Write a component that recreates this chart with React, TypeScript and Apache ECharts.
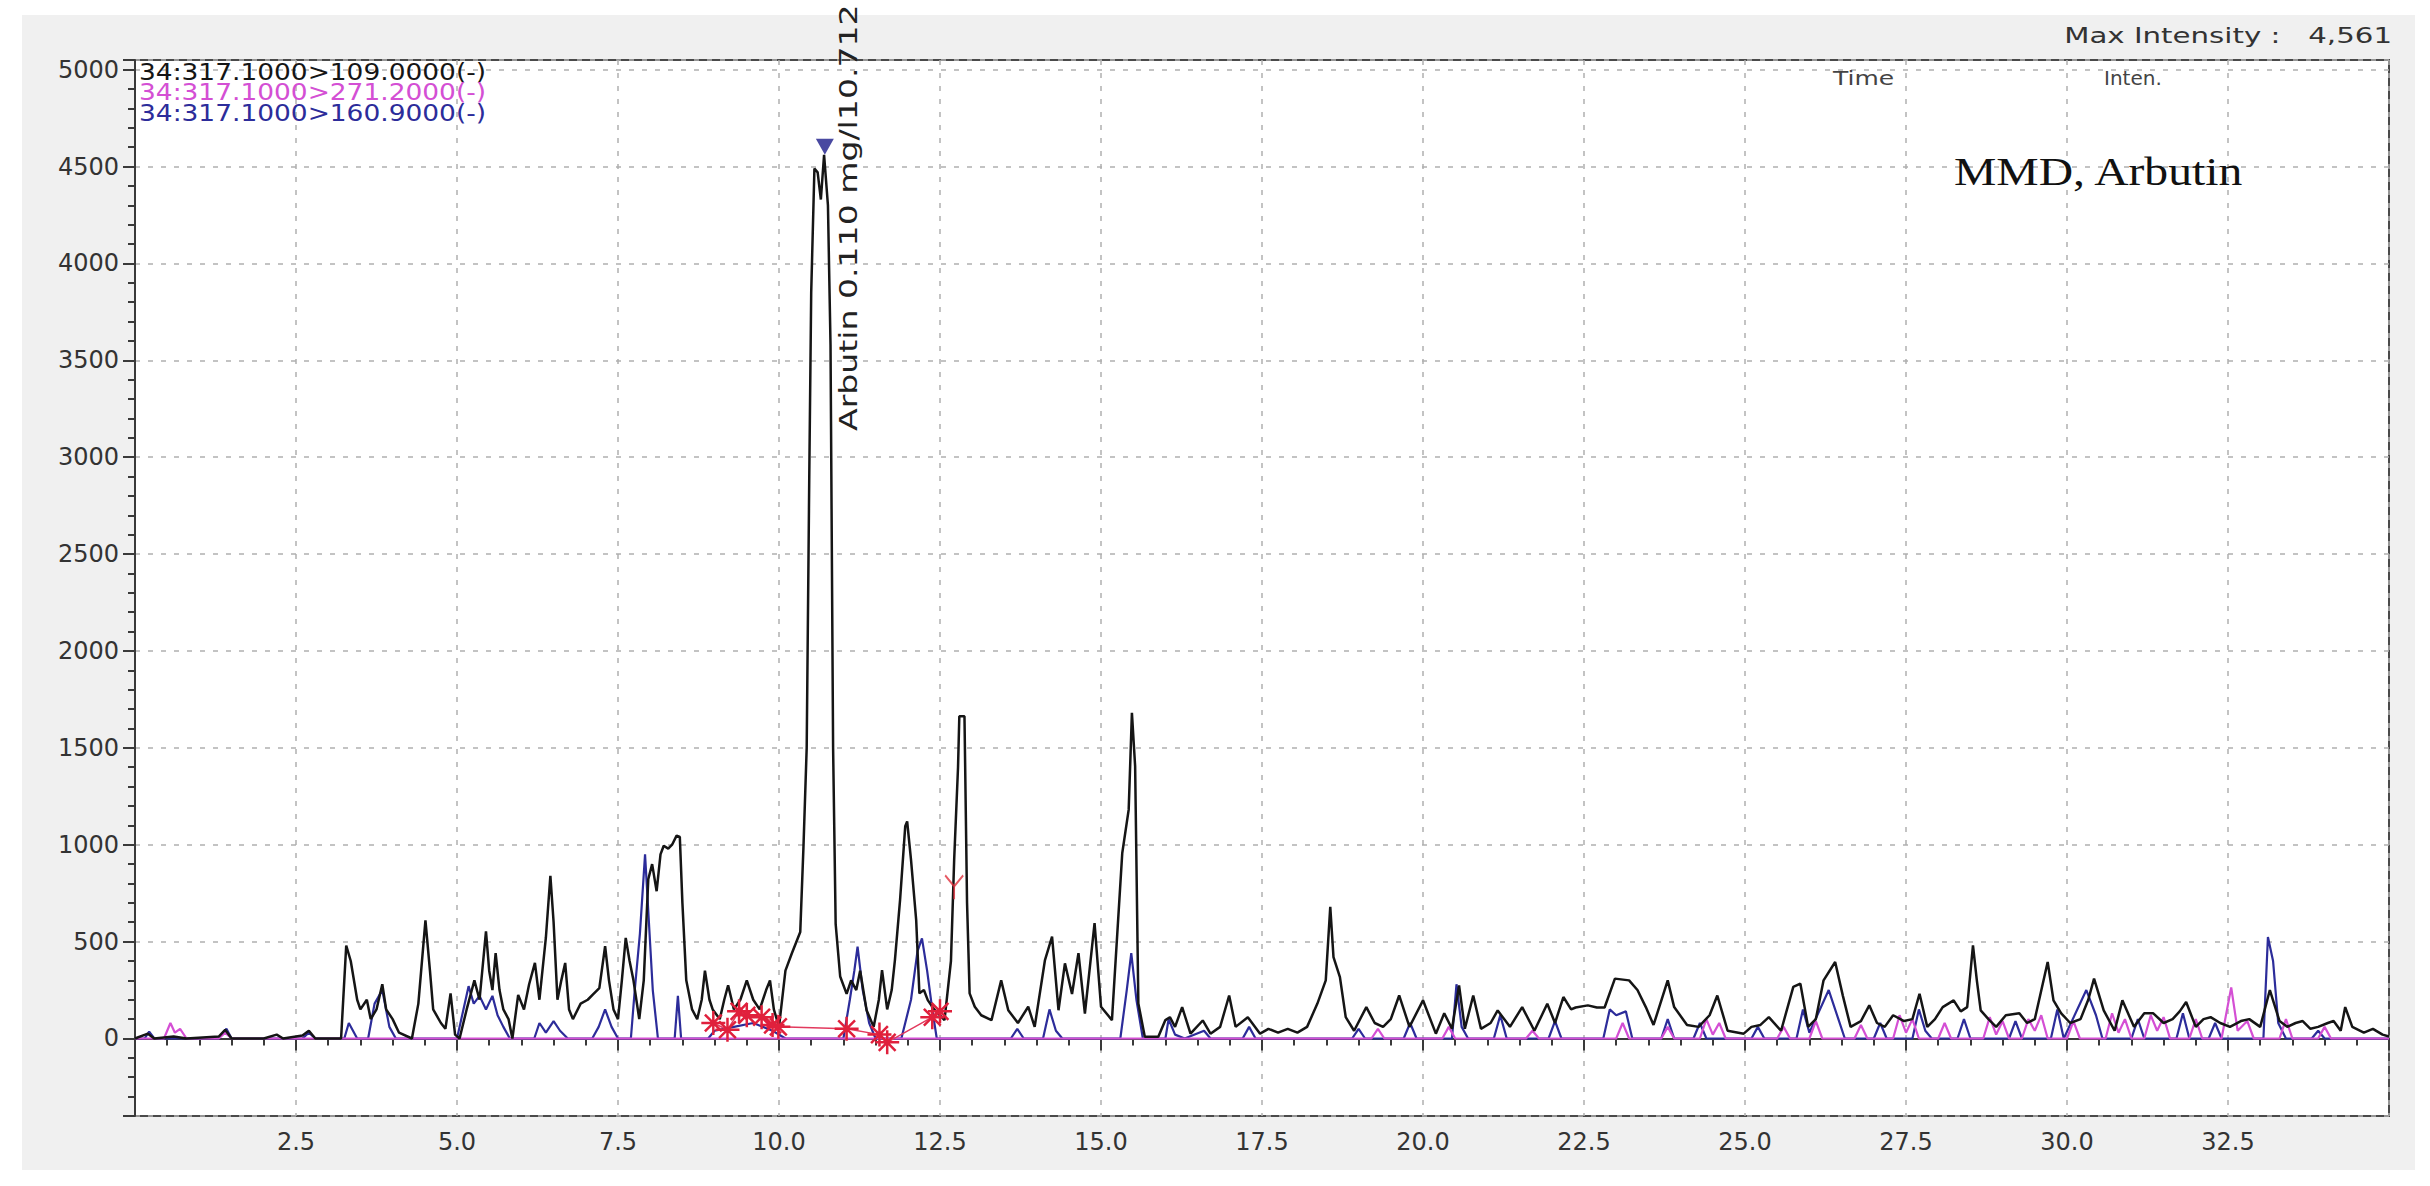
import React, { useEffect, useRef } from "react";
import * as echarts from "echarts";

// ---- legend / annotation texts ----
const legendLabels = [
  "34:317.1000>109.0000(-)",
  "34:317.1000>271.2000(-)",
  "34:317.1000>160.9000(-)",
];
const legendColors = ["#151515", "#d44fd4", "#2c2c9a"];
const peakLabel = "Arbutin 0.110 mg/l10.712";
const maxIntensityText = "Max Intensity :   4,561";
const sampleTitle = "MMD, Arbutin";

// ---- 109.0000 trace (black) [time(min), intensity] ----
const trace109: [number, number][] = [
  [0.0, 0], [0.2, 25], [0.3, 0], [0.6, 10], [0.8, 0], [1.3, 10], [1.4, 45], [1.5, 0],
  [2.0, 0], [2.2, 20], [2.3, 0], [2.6, 15], [2.7, 40], [2.8, 0], [3.2, 0],
  [3.28, 480], [3.35, 400], [3.45, 200], [3.5, 150], [3.6, 200], [3.66, 100], [3.75, 150],
  [3.84, 280], [3.9, 150], [4.0, 100], [4.1, 30], [4.3, 0], [4.4, 180], [4.51, 610],
  [4.58, 350], [4.63, 150], [4.75, 80], [4.82, 50], [4.9, 233], [4.97, 20], [5.04, 0],
  [5.15, 150], [5.27, 300], [5.35, 200], [5.45, 553], [5.5, 350], [5.55, 250], [5.6, 441],
  [5.66, 250], [5.72, 150], [5.8, 100], [5.86, 0], [5.95, 225], [6.04, 150], [6.12, 280],
  [6.21, 390], [6.28, 200], [6.38, 520], [6.45, 840], [6.5, 600], [6.56, 200], [6.62, 300],
  [6.68, 390], [6.74, 150], [6.8, 100], [6.92, 180], [7.03, 200], [7.12, 230], [7.21, 260],
  [7.3, 476], [7.36, 300], [7.43, 150], [7.5, 100], [7.56, 300], [7.62, 519], [7.68, 400],
  [7.74, 300], [7.83, 100], [7.9, 300], [7.97, 822], [8.03, 900], [8.1, 760], [8.16, 950],
  [8.21, 995], [8.28, 980], [8.34, 1000], [8.41, 1047], [8.46, 1040], [8.5, 700], [8.56, 300],
  [8.65, 150], [8.73, 100], [8.8, 200], [8.85, 350], [8.92, 200], [8.97, 150], [9.08, 100],
  [9.15, 200], [9.21, 275], [9.3, 150], [9.4, 200], [9.5, 300], [9.6, 200], [9.7, 150],
  [9.8, 250], [9.86, 300], [9.92, 150], [10.0, 60], [10.1, 350], [10.2, 440], [10.33, 550],
  [10.38, 990], [10.43, 1500], [10.47, 2900], [10.5, 3850], [10.55, 4490], [10.6, 4470],
  [10.65, 4330], [10.7, 4561], [10.76, 4300], [10.8, 3580], [10.84, 1500], [10.88, 590],
  [10.95, 320], [11.05, 230], [11.12, 300], [11.2, 250], [11.26, 350], [11.36, 146],
  [11.47, 60], [11.55, 200], [11.6, 353], [11.68, 150], [11.75, 250], [11.8, 405],
  [11.88, 715], [11.96, 1095], [11.99, 1120], [12.05, 922], [12.13, 612], [12.18, 233],
  [12.25, 250], [12.31, 198], [12.41, 150], [12.57, 95], [12.67, 400], [12.72, 922],
  [12.78, 1400], [12.8, 1663], [12.88, 1663], [12.92, 700], [12.96, 233], [13.04, 164],
  [13.14, 120], [13.3, 95], [13.45, 300], [13.56, 146], [13.71, 80], [13.87, 164],
  [13.97, 60], [14.13, 405], [14.24, 526], [14.34, 146], [14.44, 388], [14.55, 230],
  [14.65, 440], [14.75, 129], [14.9, 595], [15.0, 164], [15.17, 95], [15.33, 957],
  [15.43, 1181], [15.48, 1681], [15.53, 1405], [15.58, 181], [15.68, 9], [15.89, 9],
  [16.0, 95], [16.07, 110], [16.15, 60], [16.26, 162], [16.39, 25], [16.58, 93], [16.7, 25],
  [16.85, 60], [16.99, 222], [17.09, 60], [17.28, 110], [17.47, 25], [17.6, 50], [17.75, 30],
  [17.9, 50], [18.05, 30], [18.2, 60], [18.36, 180], [18.49, 300], [18.56, 680], [18.61, 420],
  [18.71, 317], [18.8, 110], [18.93, 40], [19.12, 162], [19.25, 80], [19.38, 60], [19.5, 100],
  [19.63, 222], [19.79, 60], [20.0, 197], [20.2, 25], [20.33, 130], [20.45, 50], [20.56, 274],
  [20.65, 50], [20.78, 222], [20.9, 50], [21.05, 80], [21.16, 145], [21.35, 60], [21.54, 162],
  [21.73, 40], [21.93, 179], [22.05, 80], [22.18, 214], [22.3, 150], [22.37, 160],
  [22.56, 171], [22.7, 160], [22.82, 160], [22.98, 309], [23.2, 300], [23.33, 250],
  [23.46, 162], [23.58, 70], [23.8, 300], [23.9, 162], [24.1, 70], [24.28, 60], [24.45, 120],
  [24.57, 222], [24.73, 40], [24.98, 25], [25.1, 60], [25.24, 70], [25.37, 110], [25.56, 40],
  [25.75, 266], [25.86, 283], [25.98, 60], [26.1, 100], [26.22, 300], [26.4, 395],
  [26.52, 220], [26.64, 60], [26.8, 90], [26.93, 171], [27.05, 80], [27.17, 60], [27.3, 120],
  [27.47, 90], [27.6, 100], [27.71, 231], [27.83, 60], [27.95, 100], [28.07, 162],
  [28.24, 197], [28.35, 140], [28.45, 162], [28.54, 481], [28.6, 300], [28.66, 145],
  [28.78, 100], [28.9, 60], [29.05, 120], [29.26, 130], [29.38, 80], [29.5, 100], [29.7, 395],
  [29.79, 197], [29.91, 130], [30.05, 80], [30.21, 100], [30.33, 200], [30.42, 309],
  [30.57, 145], [30.74, 40], [30.86, 197], [31.04, 60], [31.2, 130], [31.34, 130], [31.5, 80],
  [31.64, 100], [31.75, 140], [31.85, 188], [32.0, 60], [32.12, 100], [32.23, 110],
  [32.38, 80], [32.53, 60], [32.7, 90], [32.83, 100], [33.0, 60], [33.15, 250], [33.3, 90],
  [33.42, 60], [33.55, 80], [33.66, 90], [33.78, 50], [33.9, 60], [34.05, 80], [34.14, 90],
  [34.25, 40], [34.32, 162], [34.43, 60], [34.61, 30], [34.75, 50], [34.9, 20], [35.0, 10],
];

// ---- 271.2000 trace (magenta) ----
const trace2712: [number, number][] = [
  [0, 0], [0.45, 0], [0.55, 80], [0.62, 30], [0.7, 50], [0.8, 0], [1.3, 0], [1.4, 30], [1.5, 0],
  [19.2, 0], [19.3, 50], [19.4, 0], [20.3, 0], [20.4, 60], [20.5, 0], [21.6, 0], [21.7, 40],
  [21.8, 0], [23.0, 0], [23.1, 80], [23.2, 0], [23.7, 0], [23.8, 60], [23.9, 0], [24.3, 0],
  [24.4, 100], [24.5, 20], [24.6, 80], [24.7, 0], [25.5, 0], [25.6, 60], [25.7, 0], [26.0, 0],
  [26.1, 90], [26.2, 0], [26.7, 0], [26.8, 70], [26.9, 0], [27.3, 0], [27.4, 120], [27.5, 30],
  [27.6, 100], [27.7, 0], [28.0, 0], [28.1, 80], [28.2, 0], [28.7, 0], [28.8, 110], [28.9, 20],
  [29.0, 90], [29.1, 0], [29.3, 0], [29.4, 100], [29.5, 40], [29.6, 120], [29.7, 0], [30.0, 0],
  [30.1, 90], [30.2, 0], [30.6, 0], [30.7, 130], [30.8, 30], [30.9, 100], [31.0, 0], [31.2, 0],
  [31.3, 120], [31.4, 40], [31.5, 110], [31.6, 0], [31.9, 0], [32.0, 100], [32.1, 0], [32.4, 0],
  [32.55, 264], [32.65, 40], [32.8, 90], [32.9, 0], [33.3, 0], [33.4, 100], [33.5, 0], [33.9, 0],
  [34.0, 60], [34.1, 0], [35, 0],
];

// ---- 160.9000 trace (dark blue) ----
const trace1609: [number, number][] = [
  [0, 0], [0.15, 0], [0.22, 35], [0.3, 0], [1.3, 0], [1.42, 50], [1.5, 0], [2.6, 0], [2.7, 30],
  [2.8, 0], [3.25, 0], [3.32, 80], [3.45, 0], [3.62, 0], [3.72, 180], [3.84, 250], [3.95, 60],
  [4.05, 0], [5.0, 0], [5.1, 150], [5.18, 270], [5.26, 180], [5.35, 220], [5.45, 150],
  [5.55, 220], [5.63, 120], [5.72, 60], [5.82, 0], [6.2, 0], [6.28, 80], [6.38, 30], [6.5, 90],
  [6.6, 40], [6.72, 0], [7.1, 0], [7.2, 60], [7.3, 150], [7.4, 60], [7.5, 0], [7.7, 0],
  [7.76, 250], [7.84, 540], [7.92, 950], [7.98, 600], [8.04, 250], [8.12, 0], [8.38, 0],
  [8.43, 220], [8.48, 0], [8.9, 0], [9.0, 40], [9.3, 60], [9.6, 80], [9.9, 40], [10.1, 0],
  [11.0, 0], [11.1, 200], [11.17, 350], [11.22, 474], [11.3, 250], [11.4, 80], [11.5, 0],
  [11.9, 0], [12.05, 200], [12.15, 450], [12.22, 517], [12.3, 350], [12.38, 150], [12.45, 0],
  [13.6, 0], [13.7, 50], [13.8, 0], [14.1, 0], [14.2, 150], [14.3, 40], [14.4, 0], [15.3, 0],
  [15.4, 250], [15.47, 440], [15.55, 200], [15.65, 0], [16.0, 0], [16.05, 100], [16.15, 20],
  [16.3, 0], [16.6, 40], [16.7, 0], [17.2, 0], [17.3, 60], [17.4, 0], [18.9, 0], [19.0, 50],
  [19.1, 0], [19.7, 0], [19.8, 80], [19.9, 0], [20.45, 0], [20.52, 280], [20.6, 60], [20.7, 0],
  [21.1, 0], [21.2, 120], [21.3, 0], [21.95, 0], [22.05, 90], [22.15, 0], [22.8, 0],
  [22.9, 150], [23.0, 120], [23.15, 140], [23.25, 0], [23.7, 0], [23.8, 100], [23.9, 0],
  [24.2, 0], [24.3, 80], [24.4, 0], [25.1, 0], [25.2, 60], [25.3, 0], [25.8, 0], [25.9, 150],
  [26.0, 30], [26.3, 250], [26.45, 100], [26.55, 0], [27.0, 0], [27.1, 80], [27.2, 0],
  [27.6, 0], [27.7, 150], [27.8, 40], [27.9, 0], [28.3, 0], [28.4, 100], [28.5, 0], [29.1, 0],
  [29.2, 90], [29.3, 0], [29.75, 0], [29.85, 150], [29.95, 0], [30.3, 250], [30.45, 120],
  [30.55, 0], [31.0, 0], [31.1, 100], [31.2, 0], [31.7, 0], [31.8, 130], [31.9, 0], [32.2, 0],
  [32.3, 80], [32.4, 0], [33.05, 0], [33.12, 524], [33.2, 400], [33.28, 80], [33.4, 0],
  [33.8, 0], [33.9, 40], [34.0, 0], [35, 0],
];

// ---- integration marks (red asterisks) and peak markers ----
const integrationMarks: [number, number][] = [
  [8.98, 80], [9.2, 45], [9.38, 140], [9.5, 120], [9.73, 110], [9.9, 70], [9.99, 60],
  [11.05, 50], [11.56, 20], [11.68, -20], [12.38, 110], [12.5, 140],
];
const peakTop: [number, number][] = [[10.712, 4561]];
const peakTopMarker12: [number, number][] = [[12.72, 780]];

const asteriskPath = "path://M10 0 L10 20 M0 10 L20 10 M3 3 L17 17 M17 3 L3 17";
const yMarkPath = "path://M0 0 L10 12 L20 0 M10 12 L10 26";

export default function App() {
  const ref = useRef<HTMLDivElement>(null);

  useEffect(() => {
    document.body.style.margin = "0";
    document.body.style.overflow = "hidden";
    const chart = echarts.init(ref.current!, undefined, { renderer: "svg" });

    const gridLeft = 135;
    const gridTop = 60;
    const gridRight = 2389;
    const gridBottom = 1116;

    const legendGraphics = legendLabels.map((t, i) => ({
      type: "text",
      x: 139,
      y: 72 + i * 20.5,
      scaleX: 1.15,
      z: 20,
      style: {
        text: t,
        fill: legendColors[i],
        font: "23px 'DejaVu Sans'",
        textAlign: "left",
        textVerticalAlign: "middle",
      },
    }));

    const option: any = {
      animation: false,
      backgroundColor: "#ffffff",
      grid: {
        left: gridLeft,
        top: gridTop,
        width: gridRight - gridLeft,
        height: gridBottom - gridTop,
        show: true,
        backgroundColor: "#ffffff",
        borderColor: "#4a4a4a",
        borderWidth: 2,
        containLabel: false,
      },
      xAxis: {
        type: "value",
        min: 0,
        max: 35,
        interval: 2.5,
        axisLine: { show: true, lineStyle: { color: "#3a3a3a", width: 2 } },
        axisTick: { show: true, length: 12, lineStyle: { color: "#3a3a3a", width: 2 } },
        minorTick: { show: true, splitNumber: 5, length: 7, lineStyle: { color: "#3a3a3a", width: 2 } },
        splitLine: { show: true, lineStyle: { color: "#b0b0b0", type: [5, 8], width: 1.5 } },
        axisLabel: {
          showMinLabel: false,
          showMaxLabel: false,
          color: "#333",
          fontFamily: "DejaVu Sans",
          fontSize: 24,
          margin: 14,
          formatter: (v: number) => v.toFixed(1),
        },
      },
      yAxis: {
        type: "value",
        min: -400,
        max: 5050,
        minInterval: 500,
        maxInterval: 500,
        splitNumber: 10,
        axisLine: { show: true, lineStyle: { color: "#3a3a3a", width: 2 } },
        axisTick: { show: true, length: 12, lineStyle: { color: "#3a3a3a", width: 2 } },
        minorTick: { show: true, splitNumber: 5, length: 7, lineStyle: { color: "#3a3a3a", width: 2 } },
        splitLine: { show: true, lineStyle: { color: "#b0b0b0", type: [5, 8], width: 1.5 } },
        axisLabel: {
          showMinLabel: false,
          showMaxLabel: false,
          color: "#333",
          fontFamily: "DejaVu Sans",
          fontSize: 24,
          margin: 16,
          formatter: (v: number) => String(v),
        },
      },
      series: [
        {
          name: legendLabels[2],
          type: "line",
          data: trace1609,
          symbol: "none",
          lineStyle: { color: legendColors[2], width: 2.2 },
          z: 2,
        },
        {
          name: legendLabels[1],
          type: "line",
          data: trace2712,
          symbol: "none",
          lineStyle: { color: legendColors[1], width: 2.2 },
          z: 3,
        },
        {
          name: legendLabels[0],
          type: "line",
          data: trace109,
          symbol: "none",
          lineStyle: { color: legendColors[0], width: 2.5 },
          z: 4,
        },
        {
          name: "Integration",
          type: "line",
          data: integrationMarks,
          symbol: asteriskPath,
          symbolSize: 24,
          showSymbol: true,
          lineStyle: { color: "#e23a5e", width: 1.5 },
          itemStyle: { color: "none", borderColor: "#e0203c", borderWidth: 2.5 },
          z: 5,
        },
        {
          name: "Peak top",
          type: "scatter",
          data: peakTop,
          symbol: "triangle",
          symbolRotate: 180,
          symbolSize: [18, 16],
          symbolOffset: [0, -8],
          itemStyle: { color: "#1c1c8a" },
          z: 6,
        },
        {
          name: "Peak mark",
          type: "scatter",
          data: peakTopMarker12,
          symbol: yMarkPath,
          symbolSize: [18, 24],
          itemStyle: { color: "none", borderColor: "#e0303c", borderWidth: 2 },
          z: 6,
        },
      ],
      graphic: [
        {
          type: "rect",
          z: -10,
          silent: true,
          shape: { x: 22, y: 15, width: 2393, height: 1155 },
          style: { fill: "#f0f0f0" },
        },
        ...legendGraphics,
        {
          type: "text",
          x: 2392,
          y: 35,
          scaleX: 1.33,
          z: 20,
          style: {
            text: maxIntensityText,
            fill: "#333",
            font: "22px 'DejaVu Sans'",
            textAlign: "right",
            textVerticalAlign: "middle",
          },
        },
        {
          type: "text",
          x: 1833,
          y: 78,
          scaleX: 1.25,
          z: 20,
          style: { text: "Time", fill: "#444", font: "20px 'DejaVu Sans'", textAlign: "left", textVerticalAlign: "middle" },
        },
        {
          type: "text",
          x: 2104,
          y: 78,
          scaleX: 1.0,
          z: 20,
          style: { text: "Inten.", fill: "#444", font: "20px 'DejaVu Sans'", textAlign: "left", textVerticalAlign: "middle" },
        },
        {
          type: "text",
          x: 1954,
          y: 172,
          scaleX: 1.19,
          z: 20,
          style: {
            text: sampleTitle,
            fill: "#111",
            font: "40px 'Liberation Serif'",
            textAlign: "left",
            textVerticalAlign: "middle",
          },
        },
        {
          type: "text",
          x: 849,
          y: 431,
          rotation: Math.PI / 2,
          scaleX: 1.38,
          z: 20,
          style: {
            text: peakLabel,
            fill: "#222",
            font: "24px 'DejaVu Sans'",
            textAlign: "left",
            textVerticalAlign: "middle",
          },
        },
      ],
    };

    chart.setOption(option);
    return () => chart.dispose();
  }, []);

  return <div ref={ref} style={{ width: 2430, height: 1186 }} />;
}
